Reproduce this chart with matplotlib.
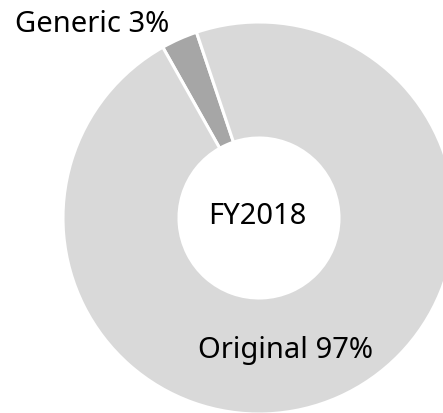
import matplotlib
matplotlib.use("Agg")
import matplotlib.pyplot as plt

labels = ["Generic", "Original"]
values = [3, 97]
colors = ["#a6a6a6", "#d9d9d9"]
center_label = "FY2018"

W, H = 443, 413
fig = plt.figure(figsize=(W / 100, H / 100), dpi=100)
ax = fig.add_axes([0, 0, 1, 1])

cx, cy = 259, H - 218
R = 196
ax.pie(values, colors=colors, startangle=108.6, counterclock=True,
       center=(cx, cy), radius=R, frame=True,
       wedgeprops=dict(width=R - 80, edgecolor="white", linewidth=2.2))
ax.set_xlim(0, W)
ax.set_ylim(0, H)
ax.set_aspect("equal")
ax.axis("off")

font = ["Noto Sans", "DejaVu Sans"]
fs = 21
ax.text(15, H - 32, f"{labels[0]} {values[0]}%", ha="left", va="baseline",
        fontsize=fs, family=font, color="black")
ax.text(198, H - 358, f"{labels[1]} {values[1]}%", ha="left", va="baseline",
        fontsize=fs, family=font, color="black")
ax.text(cx - 2, H - 224, center_label, ha="center", va="baseline",
        fontsize=fs, family=font, color="black")

fig.savefig("out.png", dpi=100)
